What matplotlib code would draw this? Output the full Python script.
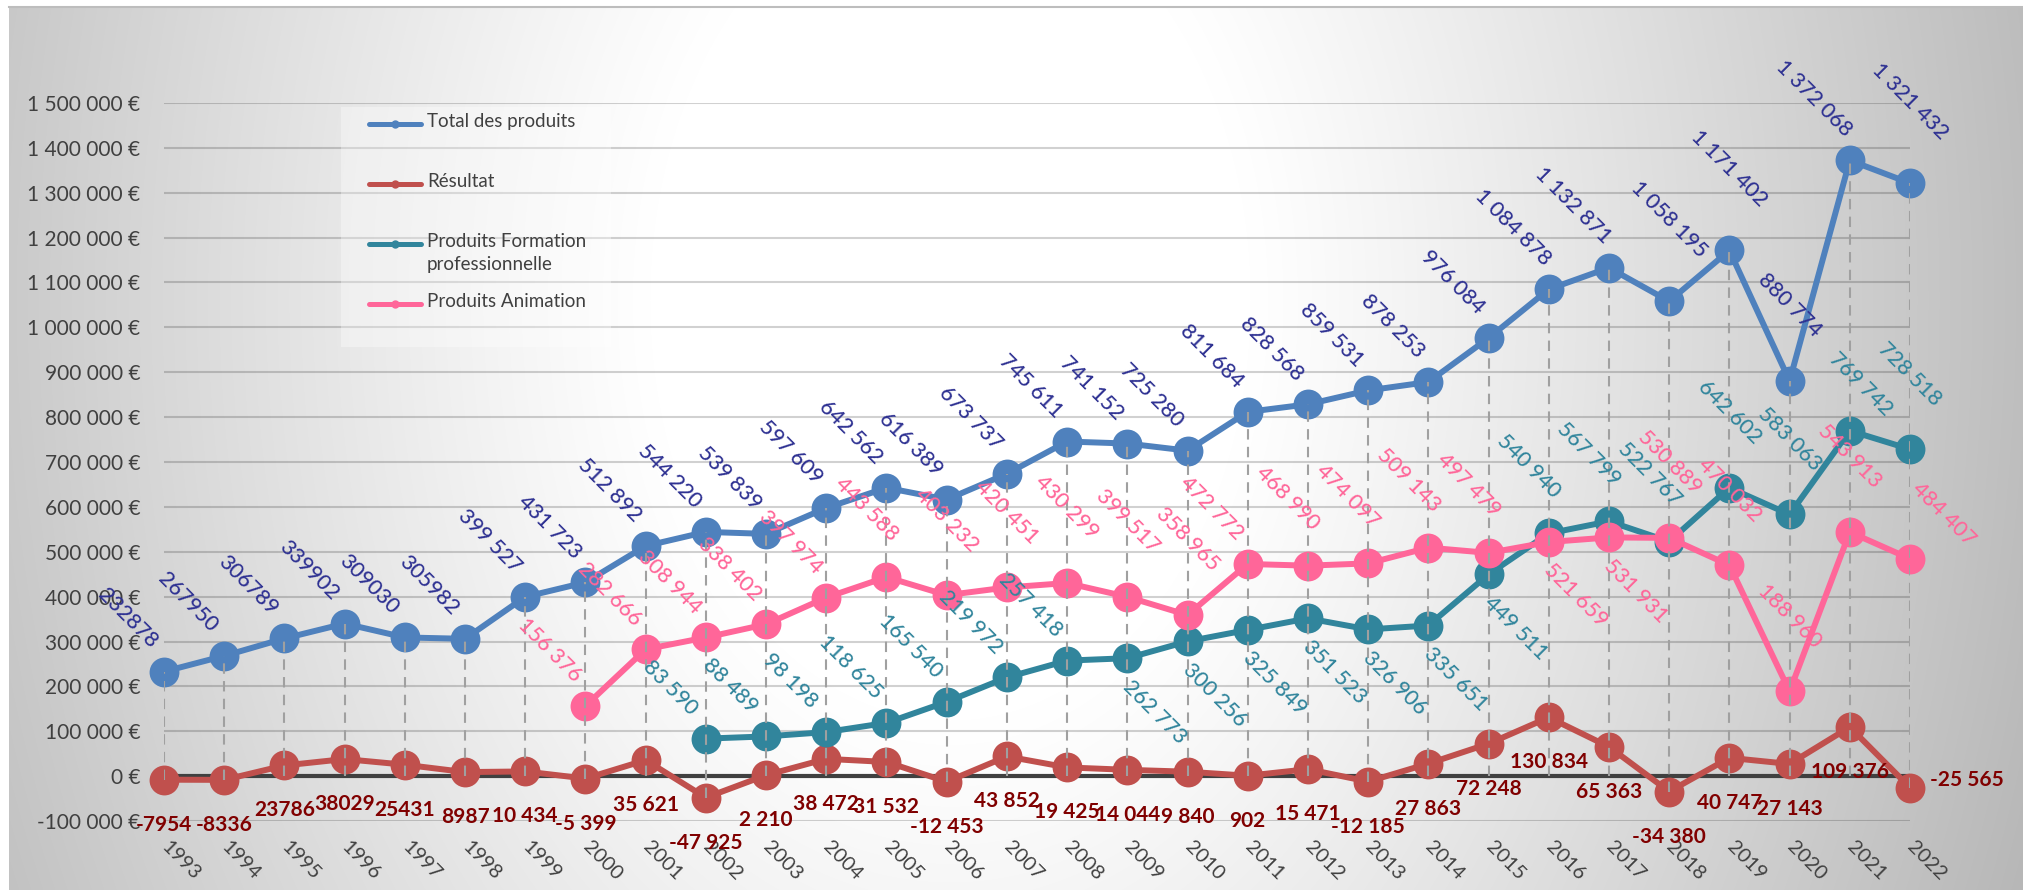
import numpy as np
import matplotlib
matplotlib.use("Agg")
import matplotlib.pyplot as plt
from matplotlib.lines import Line2D
from matplotlib.patches import Rectangle
from matplotlib.transforms import ScaledTranslation

# données
years = list(range(1993, 2023))
total = [232878, 267950, 306789, 339902, 309030, 305982, 399527, 431723,
         512892, 544220, 539839, 597609, 642562, 616389, 673737, 745611,
         741152, 725280, 811684, 828568, 859531, 878253, 976084, 1084878,
         1132871, 1058195, 1171402, 880774, 1372068, 1321432]
resultat = [-7954, -8336, 23786, 38029, 25431, 8987, 10434, -5399, 35621,
            -47925, 2210, 38472, 31532, -12453, 43852, 19425, 14044, 9840,
            902, 15471, -12185, 27863, 72248, 130834, 65363, -34380, 40747,
            27143, 109376, -25565]
years_formation = list(range(2002, 2023))
formation = [83590, 88489, 98198, 118625, 165540, 219972, 257418, 262773,
             300256, 325849, 351523, 326906, 335651, 449511, 540940, 567799,
             522767, 642602, 583063, 769742, 728518]
years_animation = list(range(2000, 2023))
animation = [156376, 282666, 308944, 338402, 397974, 443588, 403232, 420451,
             430299, 399517, 358965, 472772, 468990, 474097, 509143, 497479,
             521659, 531931, 530889, 470032, 188960, 543913, 484407]

# position des étiquettes (une lettre par point)
pos_total = "L" * 25 + "AAALA"
pos_resultat = "D" * 29 + "E"
pos_formation = "LLLLLLLBBBBBBBMMMAANA"
pos_animation = "LLLLLMAAAAALMMMMBBAAAAR"

# (décalage px, ha, va)
OFFSETS = {
    "A": ((0, 40), "center", "bottom"),
    "L": ((-36, 20), "center", "bottom"),
    "M": ((-20, 32), "center", "bottom"),
    "B": ((27, -18), "center", "top"),
    "R": ((34, 9), "center", "bottom"),
    "N": ((11, 11), "center", "bottom"),
    "D": ((0, -35), "center", "top"),
    "E": ((20, 8), "left", "center"),
}

plt.rcParams["font.family"] = ["Lato", "DejaVu Sans"]

W, H = 2024, 890
fig = plt.figure(figsize=(W / 100, H / 100), dpi=100)

# fond dégradé radial
yy, xx = np.mgrid[0:H, 0:W]
r = np.hypot((xx - 950) / 1000, (yy - 300) / 1400)
t = np.clip((r - 0.3) / 0.7, 0, None)
v = np.clip(255 - 58 * t ** 1.1, 0, 255) / 255
bg = np.dstack([v, v, v])
bg[:6, :] = 1
bg[:, :9] = 1
fig.figimage(bg, origin="upper", zorder=-10)
fig.add_artist(Line2D([9 / W, 1], [1 - 6.5 / H, 1 - 6.5 / H], color="#BDBDBD", lw=1.5))

ax = fig.add_axes([164 / W, 1 - 821 / H, (1910 - 164) / W, (821 - 103) / H])
ax.set_facecolor("none")
ax.set_xlim(1993, 2022)
ax.set_ylim(-100000, 1500000)
for s in ax.spines.values():
    s.set_visible(False)

ax.set_yticks(range(-100000, 1500001, 100000))
ax.yaxis.set_major_formatter(lambda v, p: f"{v:,.0f}".replace(",", " ") + " €")
ax.yaxis.grid(True, color="black", alpha=0.18, lw=1.5)
ax.set_axisbelow(True)
ax.tick_params(axis="y", length=0, pad=17, labelsize=15, labelcolor="#404040")

ax.set_xticks(years)
ax.set_xticklabels([str(y) for y in years], rotation=-45, ha="left", va="top")
ax.tick_params(axis="x", length=0, pad=12, labelsize=14.5, labelcolor="#404040")
for lab in ax.get_xticklabels():
    lab.set_transform(lab.get_transform() + ScaledTranslation(-0.06, 0, fig.dpi_scale_trans))

ax.axhline(0, color="#404040", lw=3, zorder=2.5)


def fmt(val, year):
    if year < 1999:
        return str(val)
    s = f"{abs(val):,}".replace(",", " ")
    return ("-" if val < 0 else "") + s


def draw_series(xs, ys, color, lab_color, positions, z, rotated=True, bold=False):
    ax.plot(xs, ys, color=color, lw=4.3, marker="o", ms=21.5, mew=0,
            zorder=z, clip_on=False, solid_capstyle="round")
    for x, y, p in zip(xs, ys, positions):
        (dx, dy), ha, va = OFFSETS[p]
        ax.annotate(fmt(y, x), (x, y), xytext=(dx, dy), textcoords="offset pixels",
                    ha=ha, va=va, rotation=-45 if rotated else 0,
                    fontsize=15 if bold else 15.5,
                    fontweight="bold" if bold else "medium",
                    color=lab_color, zorder=10, annotation_clip=False)


draw_series(years, total, "#4F81BD", "#2E3192", pos_total, 3)
draw_series(years, resultat, "#C0504D", "#800000", pos_resultat, 4, rotated=False, bold=True)
draw_series(years_formation, formation, "#31859C", "#31859C", pos_formation, 5)
draw_series(years_animation, animation, "#FF6699", "#FF6699", pos_animation, 6)

# lignes de projection
tops, bottoms = [], []
for i, y in enumerate(years):
    vals = [total[i], resultat[i]]
    if y in years_formation:
        vals.append(formation[years_formation.index(y)])
    if y in years_animation:
        vals.append(animation[years_animation.index(y)])
    tops.append(max(vals))
    bottoms.append(min(min(vals), 0))
ax.vlines(years, bottoms, tops, colors="#A0A0A0", lw=1.5,
          linestyles=(0, (5, 3.5)), zorder=7)

# légende
fig.add_artist(Rectangle((341 / W, 1 - 347 / H), 270 / W, 240 / H,
                         transform=fig.transFigure, facecolor="white",
                         alpha=0.35, edgecolor="none", zorder=1))
legend_items = [
    ("Total des produits", "#4F81BD", 124),
    ("Résultat", "#C0504D", 184),
    ("Produits Formation\nprofessionnelle", "#31859C", 244),
    ("Produits Animation", "#FF6699", 304),
]
for label, col, yp in legend_items:
    yf = 1 - yp / H
    fig.add_artist(Line2D([369 / W, 421 / W], [yf, yf], color=col, lw=3.6,
                          solid_capstyle="round", zorder=2))
    fig.add_artist(Line2D([395 / W], [yf], color=col, marker="o", ms=6,
                          mew=0, zorder=2))
    fig.text(427 / W, yf + 11 / H, label, ha="left", va="top", fontsize=13.5,
             color="#404040", linespacing=1.45, zorder=3)

fig.savefig("out.png", dpi=100)
